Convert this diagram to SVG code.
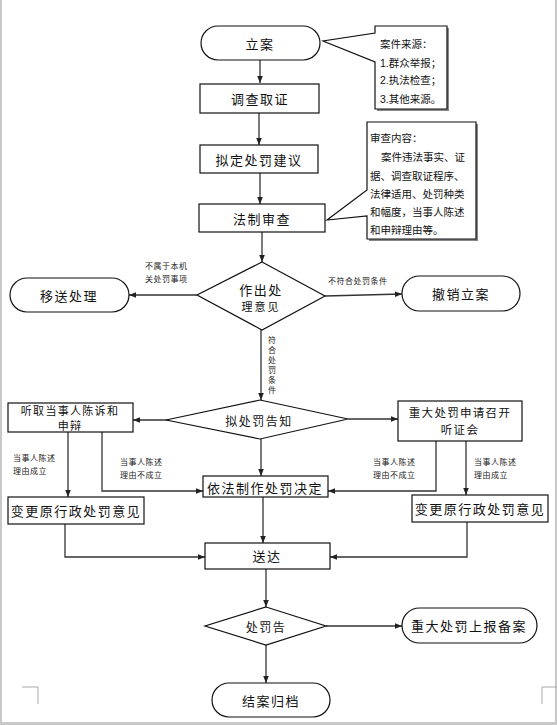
<svg xmlns="http://www.w3.org/2000/svg" width="557" height="725" viewBox="0 0 557 725">
<defs>
<marker id="ah" viewBox="0 0 10 10" refX="10" refY="5" markerWidth="7" markerHeight="7" orient="auto" markerUnits="userSpaceOnUse">
<path d="M0,1 L10,5 L0,9 z" fill="#222"/>
</marker>
<style>
.n{fill:#fff;stroke:#111;stroke-width:1.2}
.c{fill:none;stroke:#333;stroke-width:1.3;marker-end:url(#ah)}
.t{font-family:"Noto Sans CJK SC","Liberation Sans",sans-serif;font-size:13px;fill:#111;text-anchor:middle;dominant-baseline:central;letter-spacing:1.5px}
.t2{font-family:"Noto Sans CJK SC","Liberation Sans",sans-serif;font-size:11.5px;fill:#111;text-anchor:middle;dominant-baseline:central;letter-spacing:1.3px}
.s{font-family:"Noto Sans CJK SC","Liberation Sans",sans-serif;font-size:8px;fill:#222;letter-spacing:0.5px}
.k{font-family:"Liberation Sans","Noto Sans CJK SC",sans-serif;font-size:10.5px;fill:#111}
</style>
</defs>
<rect x="0" y="0" width="557" height="725" fill="#fff"/>
<rect x="0" y="0" width="2" height="725" fill="#c8c8c8"/>
<rect x="555" y="0" width="2" height="725" fill="#c8c8c8"/>
<rect x="0" y="722" width="557" height="3" fill="#c8c8c8"/>
<path d="M22,687 H38 V704 M557,687 H542 V704" fill="none" stroke="#aaa" stroke-width="1"/>

<g id="connectors">
<path class="c" d="M260,60 V83"/>
<path class="c" d="M259,113 V145"/>
<path class="c" d="M260,173 V204"/>
<path class="c" d="M262,232 V262"/>
<path class="c" d="M197,295 H129"/>
<path class="c" d="M325,296 L402,294"/>
<path class="c" d="M261,330 V400"/>
<path class="c" d="M170,420 H133"/>
<path class="c" d="M348,419 H398"/>
<path class="c" d="M261,439 V476"/>
<path class="c" d="M68,432 V497"/>
<path class="c" d="M102,432 V491 H203"/>
<path class="c" d="M436,441 V491 H328"/>
<path class="c" d="M466,441 V495"/>
<path class="c" d="M263,497 V543"/>
<path class="c" d="M65,524 V557 H205"/>
<path class="c" d="M467,522 V557 H330"/>
<path class="c" d="M266,569 V607"/>
<path class="c" d="M326,626 H402"/>
<path class="c" d="M266,645 V683"/>
<text class="s" x="145" y="269">不属于本机</text>
<text class="s" x="145" y="282">关处罚事项</text>
<text class="s" x="328" y="284">不符合处罚条件</text>
<text class="s" x="272" y="336" style="writing-mode:vertical-rl;letter-spacing:2px">符合处罚条件</text>
<text class="s" x="13" y="461">当事人陈述</text>
<text class="s" x="13" y="474">理由成立</text>
<text class="s" x="120" y="465">当事人陈述</text>
<text class="s" x="120" y="478">理由不成立</text>
<text class="s" x="373" y="465">当事人陈述</text>
<text class="s" x="373" y="478">理由不成立</text>
<text class="s" x="474" y="465">当事人陈述</text>
<text class="s" x="474" y="478">理由成立</text>
</g>

<g id="n_lian">
<rect class="n" x="201" y="26" width="119" height="34" rx="17"/>
<text class="t" x="260" y="43">立案</text>
</g>
<g id="n_callout1">
<polygon points="377,28 449,28 449,111 377,111" fill="#888"/>
<polygon class="n" points="375,26 447,26 447,109 375,109 375,62 323,41 375,33"/>
<text class="k" x="380" y="48">案件来源：</text>
<text class="k" x="380" y="67">1.群众举报；</text>
<text class="k" x="380" y="84">2.执法检查；</text>
<text class="k" x="380" y="103">3.其他来源。</text>
</g>
<g id="n_diaocha">
<rect class="n" x="200" y="84" width="119" height="29"/>
<text class="t" x="260" y="98">调查取证</text>
</g>
<g id="n_niding">
<rect class="n" x="200" y="145" width="118" height="28"/>
<text class="t" x="259" y="159">拟定处罚建议</text>
</g>
<g id="n_fazhi">
<rect class="n" x="199" y="204" width="126" height="28"/>
<text class="t" x="262" y="218">法制审查</text>
</g>
<g id="n_callout2">
<polygon points="369,124 478,124 478,241 369,241" fill="#888"/>
<polygon class="n" points="367,122 476,122 476,239 367,239 367,216 327,220 367,190"/>
<text class="k" x="370" y="142">审查内容：</text>
<text class="k" x="381" y="161">案件违法事实、证</text>
<text class="k" x="370" y="180">据、调查取证程序、</text>
<text class="k" x="370" y="198">法律适用、处罚种类</text>
<text class="k" x="370" y="216">和幅度，当事人陈述</text>
<text class="k" x="370" y="234">和申辩理由等。</text>
</g>
<g id="n_zuochu">
<polygon class="n" points="262,262 325,296 262,330 197,295"/>
<text class="t" x="261" y="289">作出处</text>
<text class="t" x="261" y="306" style="font-size:11px;letter-spacing:2px">理意见</text>
</g>
<g id="n_yisong">
<rect class="n" x="10" y="278" width="119" height="34" rx="17"/>
<text class="t" x="69" y="295">移送处理</text>
</g>
<g id="n_chexiao">
<rect class="n" x="402" y="276" width="118" height="35" rx="17.5"/>
<text class="t" x="461" y="293">撤销立案</text>
</g>
<g id="n_nigaozhi">
<polygon class="n" points="260,400 348,419 260,439 166,420"/>
<text class="t" x="259" y="420" style="font-size:12px">拟处罚告知</text>
</g>
<g id="n_tingqu">
<rect class="n" x="8" y="403" width="125" height="29"/>
<text class="t2" x="70" y="410" style="font-size:11px">听取当事人陈诉和</text>
<text class="t2" x="70" y="425" style="font-size:11px">申辩</text>
</g>
<g id="n_zhongda">
<rect class="n" x="398" y="401" width="124" height="40"/>
<text class="t2" x="460" y="412">重大处罚申请召开</text>
<text class="t2" x="460" y="429">听证会</text>
</g>
<g id="n_yifa">
<rect class="n" x="203" y="476" width="125" height="21"/>
<text class="t" x="265" y="487">依法制作处罚决定</text>
</g>
<g id="n_biangeng_l">
<rect class="n" x="8" y="497" width="136" height="27"/>
<text class="t" x="76" y="510">变更原行政处罚意见</text>
</g>
<g id="n_biangeng_r">
<rect class="n" x="412" y="495" width="136" height="27"/>
<text class="t" x="480" y="508">变更原行政处罚意见</text>
</g>
<g id="n_songda">
<rect class="n" x="205" y="543" width="125" height="26"/>
<text class="t" x="267" y="555">送达</text>
</g>
<g id="n_chufagao">
<polygon class="n" points="266,607 326,626 266,645 205,626"/>
<text class="t" x="266" y="626" style="font-size:12px">处罚告</text>
</g>
<g id="n_shangbao">
<rect class="n" x="402" y="608" width="135" height="35" rx="17.5"/>
<text class="t" x="469" y="625">重大处罚上报备案</text>
</g>
<g id="n_jiean">
<rect class="n" x="212" y="683" width="118" height="34" rx="17"/>
<text class="t" x="271" y="700">结案归档</text>
</g>
</svg>
